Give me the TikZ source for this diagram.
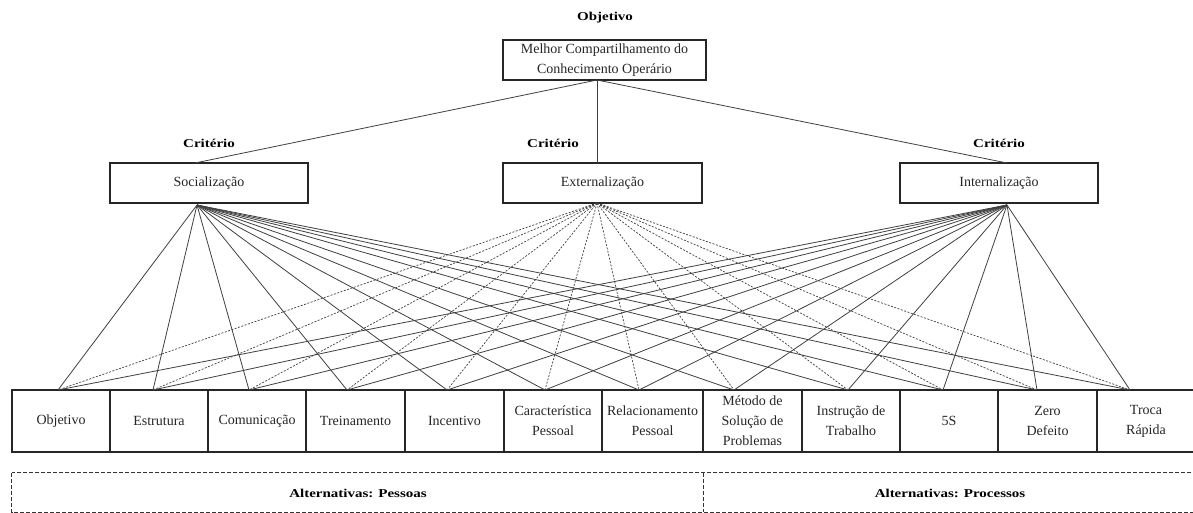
\documentclass[tikz,border=0pt]{standalone}
\usepackage{fontspec}
\setmainfont{Liberation Serif}
\newcommand{\lbl}[1]{\scalebox{1.25}[1]{\fontsize{12}{14}\selectfont\bfseries #1}}
\begin{document}
\begin{tikzpicture}[x=1pt,y=-1pt,
  box/.style={draw=black!85, line width=1.1pt, inner sep=0pt, align=center,
    font=\fontsize{14}{20}\selectfont, text=black!85},
  altbox/.style={box, minimum height=62pt},
  dashbox/.style={draw=black!80, line width=1pt, dash pattern=on 4pt off 2pt},
  grp/.style={inner sep=0pt},
  conn/.style={draw=black!75, line width=0.8pt},
  dconn/.style={draw=black!75, line width=0.7pt, dash pattern=on 2pt off 1.5pt},
  title/.style={inner sep=0pt, text=black}]
\useasboundingbox (0,0) rectangle (1193,513);
\fill[white] (0,0) rectangle (1193,513);

% labels
\node[title] (lobj) at (605,18) {\lbl{Objetivo}};
\node[title] (lc1) at (209,143) {\lbl{Critério}};
\node[title] (lc2) at (553,143) {\lbl{Critério}};
\node[title] (lc3) at (999,143) {\lbl{Critério}};

% goal and criteria
\node[box, minimum width=203pt, minimum height=40pt] (goal) at (604.5,60) {Melhor Compartilhamento do\\Conhecimento Operário};
\node[box, minimum width=198pt, minimum height=40pt] (soc) at (209,183) {Socialização};
\node[box, minimum width=199pt, minimum height=40pt] (ext) at (602.5,183) {Externalização};
\node[box, minimum width=198pt, minimum height=40pt] (int) at (999,183) {Internalização};

\coordinate (goalB) at (597,80);
\coordinate (socT) at (195,163);
\coordinate (extT) at (597,163);
\coordinate (intT) at (1007,163);
\coordinate (socB) at (197,205);
\coordinate (extB) at (597,203);
\coordinate (intB) at (1007,205);

\draw[conn] (goalB) -- (socT);
\draw[conn] (goalB) -- (extT);
\draw[conn] (goalB) -- (intT);

% alternatives
\node[altbox, minimum width=98pt] (a1) at (61,421) {Objetivo};
\node[altbox, minimum width=98pt] (a2) at (159,421) {Estrutura};
\node[altbox, minimum width=98pt] (a3) at (257,421) {Comunicação};
\node[altbox, minimum width=99pt] (a4) at (355.5,421) {Treinamento};
\node[altbox, minimum width=99pt] (a5) at (454.5,421) {Incentivo};
\node[altbox, minimum width=98pt] (a6) at (553,421) {Característica\\Pessoal};
\node[altbox, minimum width=101pt] (a7) at (652.5,421) {Relacionamento\\Pessoal};
\node[altbox, minimum width=99pt] (a8) at (752.5,421) {Método de\\Solução de\\Problemas};
\node[altbox, minimum width=98pt] (a9) at (851,421) {Instrução de\\Trabalho};
\node[altbox, minimum width=98pt] (a10) at (949,421) {5S};
\node[altbox, minimum width=99pt] (a11) at (1047.5,421) {Zero\\Defeito};
\node[altbox, minimum width=98pt] (a12) at (1146,421) {Troca\\Rápida};

\foreach \i/\x in {1/58,2/153,3/249,4/347,5/447,6/545,7/639,8/734,9/848,10/943,11/1037,12/1130}{
  \coordinate (p\i) at (\x,390);
  \draw[conn] (socB) -- (p\i);
  \draw[dconn] (extB) -- (p\i);
  \draw[conn] (intB) -- (p\i);
}

% groups
\node[grp, minimum width=691pt, minimum height=39pt] (gp) at (357.5,492.5) {};
\node[grp, minimum width=492pt, minimum height=39pt] (gr) at (949,492.5) {};
\draw[dashbox] (gp.north west) rectangle (gr.south east);
\draw[dashbox] (gp.north east) -- (gp.south east);
\node[title] (tp) at (358,493) {\lbl{Alternativas: Pessoas}};
\node[title] (tr) at (950,493) {\lbl{Alternativas: Processos}};
\end{tikzpicture}
\end{document}
